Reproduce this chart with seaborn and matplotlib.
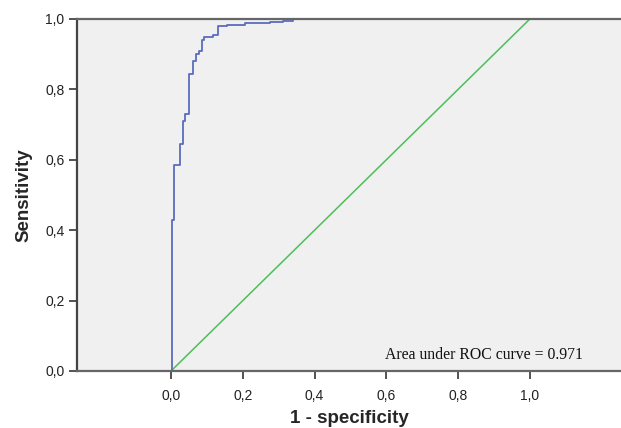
import matplotlib
matplotlib.use("Agg")
import matplotlib.pyplot as plt
import seaborn as sns

# ROC curve (step corners)
fpr = [0.004, 0.004, 0.008, 0.025, 0.033, 0.040, 0.051, 0.062, 0.069, 0.078,
       0.086, 0.093, 0.118, 0.132, 0.155, 0.206, 0.276, 0.311, 0.340, 1.0]
tpr = [0.0, 0.43, 0.585, 0.645, 0.71, 0.73, 0.845, 0.88, 0.90, 0.91,
       0.94, 0.95, 0.955, 0.98, 0.983, 0.988, 0.991, 0.995, 1.0, 1.0]
ref_x = [0.0, 1.0]
ref_y = [0.0, 1.0]
ticks = [0.0, 0.2, 0.4, 0.6, 0.8, 1.0]
tick_labels = ["0,0", "0,2", "0,4", "0,6", "0,8", "1,0"]
auc_text = "Area under ROC curve = 0.971"

sns.set_style("white", {"axes.facecolor": "#f0f0f0"})
plt.rcParams["font.family"] = ["Liberation Sans", "DejaVu Sans"]

fig = plt.figure(figsize=(6.21, 4.28), dpi=100)
ax = fig.add_axes([77 / 621, 57 / 428, 1 - 77 / 621, 352 / 428])

sns.lineplot(x=ref_x, y=ref_y, ax=ax, color="#4cbf5a", lw=1.1)
sns.lineplot(x=fpr, y=tpr, ax=ax, color="#5a6cbd", lw=1.3,
             drawstyle="steps-post", estimator=None, sort=False)

ax.set_xlim(-0.262, 1.254)
ax.set_ylim(0, 1)
ax.set_xticks(ticks)
ax.set_xticklabels(tick_labels)
ax.set_yticks(ticks)
ax.set_yticklabels(tick_labels)
ax.tick_params(axis="both", bottom=True, left=True, direction="out",
               length=6, width=1.3, color="#444444", labelsize=10,
               labelcolor="#222222", pad=3)
ax.tick_params(axis="x", pad=7)

for side in ["left", "bottom", "top"]:
    ax.spines[side].set_color("#666666")
    ax.spines[side].set_linewidth(1.6)
ax.spines["left"].set_color("#444444")
ax.spines["right"].set_visible(False)

ax.set_xlabel("1 - specificity", fontsize=13.5, fontweight="bold", labelpad=5)
ax.set_ylabel("Sensitivity", fontsize=13.5, fontweight="bold", labelpad=9)

ax.text(1.148, 0.045, auc_text, ha="right", va="center", fontsize=11.3,
        family=["Liberation Serif", "DejaVu Serif"], color="#111111")

fig.savefig("out.png", dpi=100)
